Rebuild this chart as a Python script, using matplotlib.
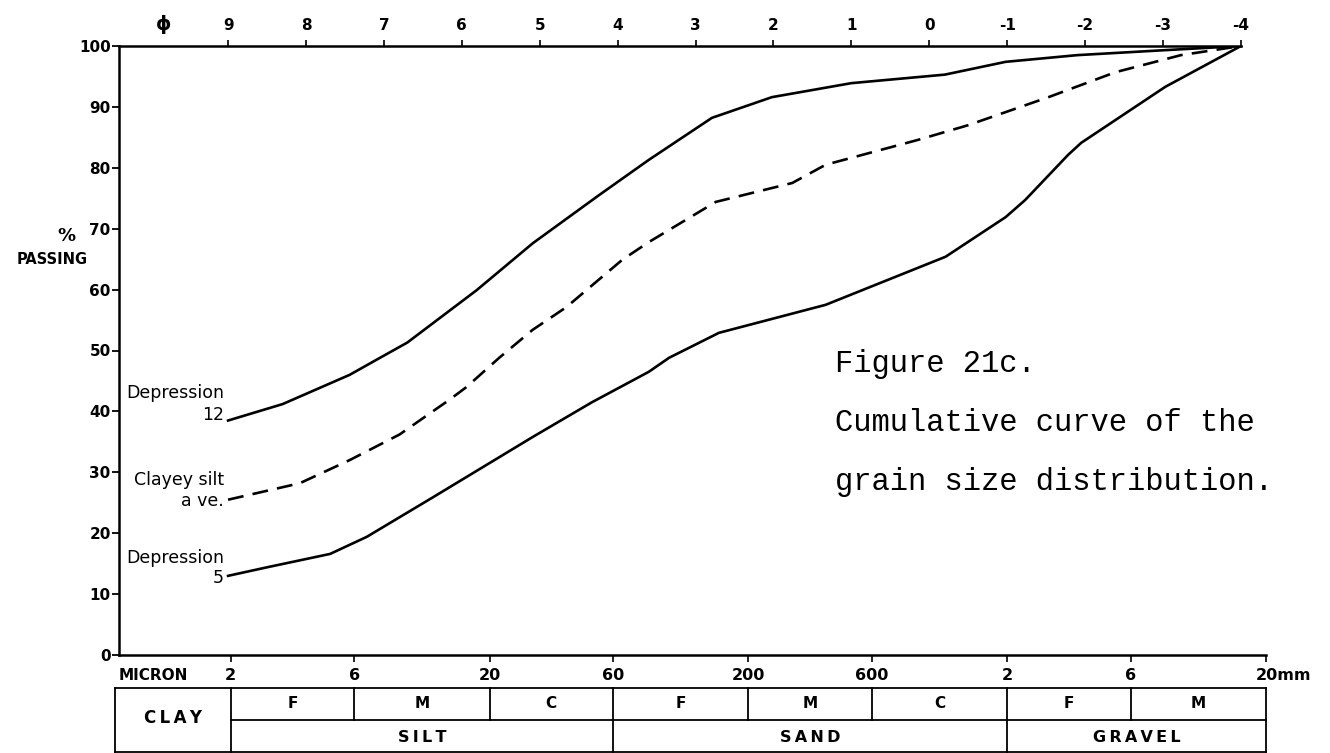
import numpy as np
import matplotlib.pyplot as plt

# -----------------------------
# DATA (phi units on x, % passing on y)
# -----------------------------
dep12_phi = [9, 8.3, 7.44, 7.05, 6.7, 5.81, 5.09, 4.24, 3.6, 2.79, 2.02, 1.0, -0.2, -0.98, -1.9, -3.0, -4]
dep12_pct = [38.5, 41.2, 46.0, 48.8, 51.3, 59.9, 67.6, 75.5, 81.3, 88.2, 91.6, 93.9, 95.3, 97.4, 98.5, 99.3, 100]

clayey_phi = [9, 8.08, 7.44, 6.8, 6.16, 5.94, 5.52, 5.09, 4.66, 3.94, 3.6, 2.74, 1.76, 1.33, 0.14, -0.5, -1.53, -2.39, -3.23, -4]
clayey_pct = [25.5, 28.2, 32.0, 36.2, 41.9, 44.0, 48.8, 53.4, 57.1, 64.9, 67.8, 74.4, 77.5, 80.5, 84.6, 87.0, 91.6, 95.7, 98.5, 100]

dep5_phi = [9, 8.5, 7.69, 7.22, 6.37, 5.09, 4.33, 3.6, 3.34, 2.7, 1.33, -0.21, -0.98, -1.23, -1.78, -1.95, -3.03, -4]
dep5_pct = [13.0, 14.4, 16.6, 19.4, 25.9, 35.8, 41.5, 46.5, 48.8, 52.9, 57.5, 65.4, 71.9, 74.7, 82.1, 84.1, 93.3, 100]

phi_ticks = [9, 8, 7, 6, 5, 4, 3, 2, 1, 0, -1, -2, -3, -4]

size_mm = [0.002, 0.006, 0.02, 0.06, 0.2, 0.6, 2, 6, 20]
size_labels = ['2', '6', '20', '60', '200', '600', '2', '6', '']

y_ticks = list(range(0, 101, 10))

# grain size classes: (label, left edge mm, right edge mm)
sub_classes = [('F', 0.002, 0.006), ('M', 0.006, 0.02), ('C', 0.02, 0.06),
               ('F', 0.06, 0.2), ('M', 0.2, 0.6), ('C', 0.6, 2),
               ('F', 2, 6), ('M', 6, 20)]
main_classes = [('S\u2009I\u2009L\u2009T', 0.002, 0.06),
                ('S\u2009A\u2009N\u2009D', 0.06, 2),
                ('G\u2009R\u2009A\u2009V\u2009E\u2009L', 2, 20)]


def to_phi(mm):
    return -np.log2(mm)


# -----------------------------
# FIGURE
# -----------------------------
plt.rcParams['font.family'] = 'DejaVu Sans'
fig = plt.figure(figsize=(13.3, 7.53), dpi=100)
ax = fig.add_axes([119 / 1330, 98 / 753, 1147 / 1330, 609 / 753])

x_left = 10.4
x_right = to_phi(20)
ax.set_xlim(x_left, x_right)
ax.set_ylim(0, 100)

ax.plot(dep12_phi, dep12_pct, color='black', lw=1.9)
ax.plot(dep5_phi, dep5_pct, color='black', lw=1.9)
ax.plot(clayey_phi, clayey_pct, color='black', lw=1.9, dashes=(6, 3.5))

# spines
for s in ['top', 'right']:
    ax.spines[s].set_visible(False)
ax.spines['left'].set_linewidth(1.8)
ax.spines['bottom'].set_linewidth(1.8)
xa = ax.get_xaxis_transform()
ax.plot([x_left, -4], [1, 1], transform=xa, color='black', lw=1.8, clip_on=False)

# y axis
ax.set_yticks(y_ticks)
ax.set_yticklabels([str(v) for v in y_ticks], fontsize=11, fontweight='bold')
ax.tick_params(axis='y', direction='out', length=5, width=1.3, pad=1)

# bottom axis (grain size)
ax.set_xticks([to_phi(v) for v in size_mm])
ax.set_xticklabels(size_labels, fontsize=11.5, fontweight='bold')
ax.tick_params(axis='x', direction='out', length=5, width=1.2, pad=4)
ax.annotate('20mm', xy=(to_phi(20), 0), xycoords=xa, xytext=(-10, -21),
            textcoords='offset pixels', ha='left', va='center', fontsize=11.5,
            fontweight='bold')
ax.annotate('MICRON', xy=(x_left, 0), xycoords=xa, xytext=(0, -21),
            textcoords='offset pixels', ha='left', va='center', fontsize=11,
            fontweight='bold')

# top axis (phi)
sec = ax.secondary_xaxis('top')
sec.set_xticks(phi_ticks)
sec.set_xticklabels([str(v) for v in phi_ticks], fontsize=11, fontweight='bold')
sec.tick_params(direction='out', length=4, width=1.2, pad=5)
sec.spines['top'].set_visible(False)
ax.annotate('\u03d5', xy=(9.83, 1), xycoords=xa, xytext=(0, 21),
            textcoords='offset pixels', ha='center', va='center',
            fontsize=14, fontweight='bold')

# axis title
fig.text(66 / 1330, 1 - 236 / 753, '%', ha='center', va='center',
         fontsize=13, fontweight='bold')
fig.text(52 / 1330, 1 - 260 / 753, 'PASSING', ha='center', va='center',
         fontsize=10.5, fontweight='bold')

# curve labels
lab = dict(ha='right', va='center', fontsize=12.5)
ax.text(9.05, 43.0, 'Depression', **lab)
ax.text(9.05, 39.4, '12', **lab)
ax.text(9.05, 28.7, 'Clayey silt', **lab)
ax.text(9.05, 25.3, 'a ve.', **lab)
ax.text(9.05, 15.9, 'Depression', **lab)
ax.text(9.05, 12.6, '5', **lab)

# caption
cap = dict(family='Liberation Mono', fontsize=22, ha='left', va='baseline')
fig.text(835 / 1330, 1 - 372 / 753, 'Figure 21c.', **cap)
fig.text(835 / 1330, 1 - 431 / 753, 'Cumulative curve of the', **cap)
fig.text(835 / 1330, 1 - 490 / 753, 'grain size distribution.', **cap)

# -----------------------------
# CLASS TABLE BELOW THE AXIS
# -----------------------------
y_top = (655 - 688) / 609
y_mid = (655 - 720) / 609
y_bot = (655 - 752) / 609
t_left = 10.45
t_right = to_phi(20)
lk = dict(transform=xa, color='black', lw=1.3, clip_on=False)

ax.plot([t_left, t_right], [y_top, y_top], **lk)
ax.plot([to_phi(0.002), t_right], [y_mid, y_mid], **lk)
ax.plot([t_left, t_right], [y_bot, y_bot], **lk)
ax.plot([t_left, t_left], [y_top, y_bot], **lk)
for v in size_mm:
    low = y_bot if v in (0.002, 0.06, 2, 20) else y_mid
    ax.plot([to_phi(v), to_phi(v)], [y_top, low], **lk)

for name, a, b in sub_classes:
    ax.text((to_phi(a) + to_phi(b)) / 2, (y_top + y_mid) / 2, name,
            transform=xa, ha='center', va='center', fontsize=11, fontweight='bold')
for name, a, b in main_classes:
    ax.text((to_phi(a) + to_phi(b)) / 2, (655 - 737) / 609, name,
            transform=xa, ha='center', va='center', fontsize=11.5, fontweight='bold')
ax.text((t_left + to_phi(0.002)) / 2, (y_top + y_bot) / 2 + 0.004,
        'C\u2009L\u2009A\u2009Y', transform=xa, ha='center', va='center',
        fontsize=12, fontweight='bold')

fig.savefig('out.png', dpi=100)
